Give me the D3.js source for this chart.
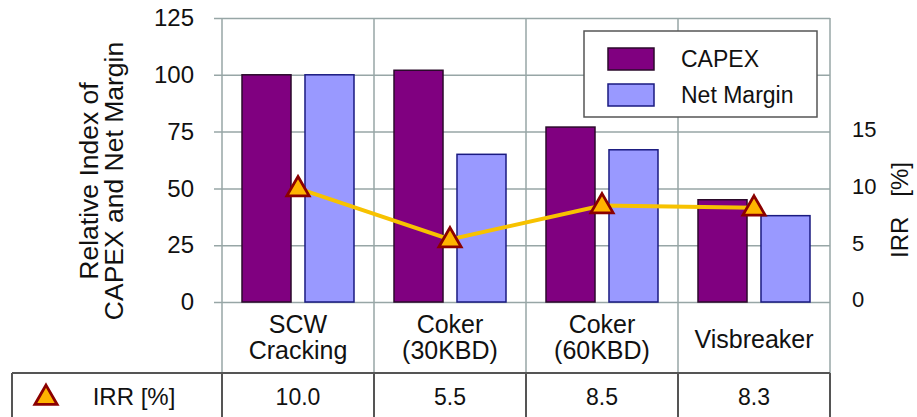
<!DOCTYPE html>
<html>
<head>
<meta charset="utf-8">
<script src="https://cdn.jsdelivr.net/npm/d3@7"></script>
<style>
  html, body { margin: 0; padding: 0; background: #fff; }
  svg { display: block; font-family: "Liberation Sans", Arial, sans-serif; }
</style>
</head>
<body>
<svg id="chart" width="917" height="417"></svg>
<script>
// Process alternatives compared on cost, margin and return
const categories = [["SCW", "Cracking"], ["Coker", "(30KBD)"], ["Coker", "(60KBD)"], ["Visbreaker"]];
const categoryKeys = ["SCW Cracking", "Coker (30KBD)", "Coker (60KBD)", "Visbreaker"];
const seriesNames = ["CAPEX", "Net Margin"];
const capex = [100, 102, 77, 45];
const netMargin = [100, 65, 67, 38];
const irr = [10.0, 5.5, 8.5, 8.3];
const irrLabels = ["10.0", "5.5", "8.5", "8.3"];
const leftTicks = [0, 25, 50, 75, 100, 125];
const rightTicks = [0, 5, 10, 15];

const svg = d3.select("#chart");
const W = 917, H = 417;
const plot = { left: 222, right: 830, top: 18, bottom: 302 };
const tableTop = 373;
const gridColor = "#97a6a6";
const tableColor = "#555";
const colors = { "CAPEX": "#800080", "Net Margin": "#9999ff" };
const strokes = { "CAPEX": "#2b0a2b", "Net Margin": "#1a1a80" };

const x = d3.scaleBand().domain(categoryKeys).range([plot.left, plot.right]).padding(0);
const xs = d3.scaleBand().domain(seriesNames).range([0, x.bandwidth()])
  .paddingInner(0.222).paddingOuter(0.3175);
const y = d3.scaleLinear().domain([0, 125]).range([plot.bottom, plot.top]);
const yIrr = d3.scaleLinear().domain([0, 25]).range([plot.bottom, plot.top]);

// horizontal grid lines with outward ticks (left axis)
const leftAxis = d3.axisLeft(y).tickValues(leftTicks)
  .tickSize(-(plot.right - plot.left)).tickSizeOuter(0).tickPadding(20);
const gL = svg.append("g").attr("transform", `translate(${plot.left},0)`).call(leftAxis);
gL.select(".domain").remove();
gL.selectAll(".tick line").attr("stroke", gridColor).attr("stroke-width", 1.5)
  .attr("x1", -8);
gL.selectAll(".tick text").attr("font-size", 24).attr("fill", "#111")
  .attr("font-family", "Liberation Sans, Arial, sans-serif").attr("x", -28);

// right IRR axis labels
const rightAxis = d3.axisRight(yIrr).tickValues(rightTicks).tickSize(0).tickPadding(22);
const gR = svg.append("g").attr("transform", `translate(${plot.right},0)`).call(rightAxis);
gR.select(".domain").remove();
gR.selectAll(".tick text").attr("font-size", 22).attr("fill", "#111")
  .attr("font-family", "Liberation Sans, Arial, sans-serif").attr("dy", "0.22em");

// vertical category separators through chart and label area
const bounds = categoryKeys.map(k => x(k)).concat([plot.right]);
svg.append("g").selectAll("line").data(bounds).join("line")
  .attr("x1", d => d).attr("x2", d => d)
  .attr("y1", plot.top).attr("y2", tableTop)
  .attr("stroke", gridColor).attr("stroke-width", 1.5);

// bars
const groups = svg.append("g").selectAll("g").data(categoryKeys).join("g")
  .attr("transform", d => `translate(${x(d)},0)`);
groups.each(function(k, i) {
  const vals = [{ s: "CAPEX", v: capex[i] }, { s: "Net Margin", v: netMargin[i] }];
  d3.select(this).selectAll("rect").data(vals).join("rect")
    .attr("x", d => xs(d.s)).attr("width", xs.bandwidth())
    .attr("y", d => y(d.v)).attr("height", d => y(0) - y(d.v))
    .attr("fill", d => colors[d.s]).attr("stroke", d => strokes[d.s]).attr("stroke-width", 1.5);
});

// IRR line and triangle markers
const cx = k => x(k) + x.bandwidth() / 2;
const pts = categoryKeys.map((k, i) => [cx(k), yIrr(irr[i])]);
svg.append("path").datum(pts)
  .attr("d", d3.line())
  .attr("fill", "none").attr("stroke", "#f7c200").attr("stroke-width", 4);
const tri = d3.symbol().type(d3.symbolTriangle).size(215);
svg.append("g").selectAll("path").data(pts).join("path")
  .attr("d", tri).attr("transform", d => `translate(${d[0]},${d[1] + 1})`)
  .attr("fill", "#ffb400").attr("stroke", "#8b0000").attr("stroke-width", 2.8)
  .attr("stroke-linejoin", "miter");

// category labels
const catG = svg.append("g").attr("font-size", 25).attr("fill", "#111").attr("text-anchor", "middle");
categories.forEach((lines, i) => {
  const t = catG.append("text").attr("x", cx(categoryKeys[i]));
  if (lines.length === 2) {
    t.append("tspan").attr("x", cx(categoryKeys[i])).attr("y", 333).text(lines[0]);
    t.append("tspan").attr("x", cx(categoryKeys[i])).attr("y", 359).text(lines[1]);
  } else {
    t.attr("y", 348).text(lines[0]);
  }
});

// data table row
const tbl = svg.append("g");
tbl.append("line").attr("x1", 12).attr("x2", plot.right).attr("y1", tableTop).attr("y2", tableTop)
  .attr("stroke", tableColor).attr("stroke-width", 2);
tbl.selectAll("line.v").data([12].concat(bounds)).join("line").attr("class", "v")
  .attr("x1", d => d).attr("x2", d => d).attr("y1", tableTop).attr("y2", H)
  .attr("stroke", tableColor).attr("stroke-width", 2);
tbl.append("path").attr("d", tri).attr("transform", "translate(46,398)")
  .attr("fill", "#ffb400").attr("stroke", "#8b0000").attr("stroke-width", 2.8);
tbl.append("text").attr("x", 134).attr("y", 405).attr("text-anchor", "middle")
  .attr("font-size", 24).attr("fill", "#111").text("IRR [%]");
tbl.selectAll("text.val").data(irrLabels).join("text").attr("class", "val")
  .attr("x", (d, i) => cx(categoryKeys[i])).attr("y", 405).attr("text-anchor", "middle")
  .attr("font-size", 23).attr("fill", "#111").text(d => d);

// axis titles
const lt = svg.append("text").attr("transform", "translate(98,181) rotate(-90)")
  .attr("text-anchor", "middle").attr("font-size", 26.5).attr("fill", "#111");
lt.append("tspan").attr("x", 0).attr("y", 0).text("Relative Index of");
lt.append("tspan").attr("x", 0).attr("y", 25).text("CAPEX and Net Margin");

const rt = svg.append("text").attr("transform", "translate(908,210) rotate(-90)")
  .attr("text-anchor", "middle").attr("font-size", 24).attr("fill", "#111");
rt.append("tspan").text("IRR");
rt.append("tspan").attr("dx", 20).text("[%]");

// legend
const lg = svg.append("g").attr("transform", "translate(584,31)");
lg.append("rect").attr("width", 233).attr("height", 86).attr("fill", "#fff")
  .attr("stroke", "#555").attr("stroke-width", 1.5);
seriesNames.forEach((s, i) => {
  lg.append("rect").attr("x", 24).attr("y", 17 + i * 36).attr("width", 46).attr("height", 22)
    .attr("fill", colors[s]).attr("stroke", strokes[s]).attr("stroke-width", 1.5);
  lg.append("text").attr("x", 97).attr("y", 36 + i * 36).attr("font-size", 23).attr("fill", "#111").text(s);
});
</script>
</body>
</html>
